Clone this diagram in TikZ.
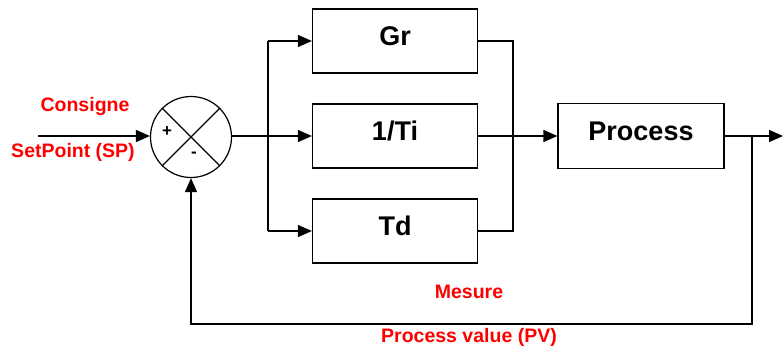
\documentclass[tikz,border=0pt]{standalone}
\usepackage{fontspec}
\setmainfont{Liberation Sans}
\usetikzlibrary{arrows.meta}
\begin{document}
\begin{tikzpicture}[x=1pt,y=-1pt,
 blk/.style={draw,line width=1.2pt,minimum width=165pt,minimum height=64pt,inner sep=0pt,text height=14pt,text depth=6pt,font=\fontsize{27}{30}\selectfont\bfseries},
 lbl/.style={text=red,inner sep=0pt,anchor=base,font=\fontsize{19.5}{22}\selectfont\bfseries},
 sgn/.style={inner sep=0pt,font=\fontsize{17}{19}\selectfont\bfseries},
 wire/.style={line width=1.2pt},
 arr/.style={wire,-{Triangle[length=14pt,width=12pt]}}]
\useasboundingbox (0,0) rectangle (783,348);
% summing junction
\node[draw,circle,line width=1.2pt,minimum size=81pt,inner sep=0pt] (sum) at (191,137) {};
\draw[wire] (sum.45) -- (sum.225);
\draw[wire] (sum.135) -- (sum.-45);
\node[sgn] (plus) at (167,132) {+};
\node[sgn] (minus) at (194,155) {-};
% blocks
\node[blk] (gr) at (395,41) {Gr};
\node[blk] (ti) at (395,136) {1/Ti};
\node[blk] (td) at (395,231) {Td};
\node[blk,minimum width=166pt,minimum height=65pt] (proc) at (641,136) {Process};
% labels
\node[lbl] (cons) at (85,111) {Consigne};
\node[lbl] (sp) at (73,157) {SetPoint (SP)};
\node[lbl] (mes) at (469,298) {Mesure};
\node[lbl] (pv) at (469,342) {Process value (PV)};
% coordinates
\coordinate (in) at (38,136);
\coordinate (br) at (268,136);
\coordinate (mg) at (513,136);
\coordinate (tap) at (752,136);
\coordinate (out) at (783,136);
\coordinate (fb) at (752,324);
% connectors
\draw[arr] (in) -- (sum.west |- in);
\draw[arr] (sum.east |- ti) -- (ti.west);
\draw[wire] (br |- gr) -- (br |- td);
\draw[arr] (br |- gr) -- (gr.west);
\draw[arr] (br |- td) -- (td.west);
\draw[wire] (gr.east) -- (mg |- gr) -- (mg |- td) -- (td.east);
\draw[arr] (ti.east) -- (proc.west);
\draw[arr] (proc.east) -- (out);
\draw[arr] (tap) -- (fb) -| (sum.south);
\end{tikzpicture}
\end{document}
